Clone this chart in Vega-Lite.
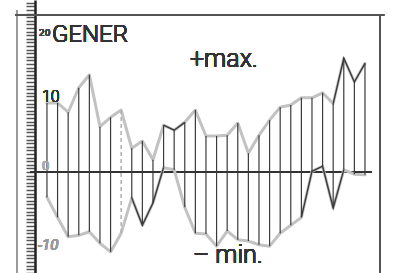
{
  "$schema": "https://vega.github.io/schema/vega-lite/v6.json",
  "width": 397,
  "height": 273,
  "autosize": {"type": "none"},
  "padding": 0,
  "background": "#ffffff",
  "config": {"view": {"stroke": null}},
  "data": {"values": [
    {"day": 1, "max": 9.6, "min": -3.5},
    {"day": 2, "max": 9.6, "min": -6.3},
    {"day": 3, "max": 8.3, "min": -9.0},
    {"day": 4, "max": 11.7, "min": -8.8},
    {"day": 5, "max": 13.5, "min": -8.3},
    {"day": 6, "max": 6.3, "min": -9.9},
    {"day": 7, "max": 7.6, "min": -11.1},
    {"day": 8, "max": 8.6, "min": -8.5},
    {"day": 9, "max": 3.3, "min": -3.6},
    {"day": 10, "max": 4.3, "min": -7.4},
    {"day": 11, "max": 1.7, "min": -4.3},
    {"day": 12, "max": 6.5, "min": 0.6},
    {"day": 13, "max": 5.8, "min": 0.3},
    {"day": 14, "max": 6.9, "min": -4.9},
    {"day": 15, "max": 8.6, "min": -8.5},
    {"day": 16, "max": 5.0, "min": -8.6},
    {"day": 17, "max": 5.0, "min": -10.3},
    {"day": 18, "max": 5.1, "min": -8.2},
    {"day": 19, "max": 6.8, "min": -9.4},
    {"day": 20, "max": 2.6, "min": -9.6},
    {"day": 21, "max": 5.1, "min": -10.1},
    {"day": 22, "max": 7.2, "min": -10.3},
    {"day": 23, "max": 9.0, "min": -8.5},
    {"day": 24, "max": 9.3, "min": -7.4},
    {"day": 25, "max": 10.3, "min": -6.3},
    {"day": 26, "max": 10.3, "min": 0.1},
    {"day": 27, "max": 11.0, "min": 0.8},
    {"day": 28, "max": 9.5, "min": -5.0},
    {"day": 29, "max": 15.8, "min": 0.3},
    {"day": 30, "max": 12.5, "min": -0.3},
    {"day": 31, "max": 15.1, "min": -0.4}
  ]},
  "layer": [
    {
      "mark": {"type": "rule", "color": "#9a9a9a", "strokeWidth": 1},
      "encoding": {
        "x": {"datum": -1.83, "type": "quantitative", "scale": {"domain": [-3.43, 34.02], "nice": false, "zero": false}, "axis": null},
        "y": {"datum": 22.4, "type": "quantitative", "scale": {"domain": [-14.03, 23.89], "nice": false, "zero": false},
              "axis": {"orient": "left", "offset": -35, "labels": false, "title": null, "grid": false, "domainColor": "#222222", "domainWidth": 2.5, "tickColor": "#555555", "tickWidth": 1.5, "tickSize": 9, "tickCount": 76}},
        "y2": {"datum": -14.03}
      }
    },
    {
      "mark": {"type": "rule", "color": "#333333", "strokeWidth": 1.5},
      "encoding": {
        "x": {"datum": -0.6, "type": "quantitative", "scale": {"domain": [-3.43, 34.02], "nice": false, "zero": false}},
        "x2": {"datum": 31.66},
        "y": {"datum": 0, "type": "quantitative", "scale": {"domain": [-14.03, 23.89], "nice": false, "zero": false}}
      }
    },
    {
      "mark": {"type": "rule", "color": "#555555", "strokeWidth": 1.5},
      "encoding": {
        "x": {"datum": -2.0, "type": "quantitative", "scale": {"domain": [-3.43, 34.02], "nice": false, "zero": false}},
        "x2": {"datum": 32.8},
        "y": {"datum": 21.8, "type": "quantitative", "scale": {"domain": [-14.03, 23.89], "nice": false, "zero": false}}
      }
    },
    {
      "mark": {"type": "rule", "color": "#555555", "strokeWidth": 1.5},
      "encoding": {
        "x": {"datum": 32.42, "type": "quantitative", "scale": {"domain": [-3.43, 34.02], "nice": false, "zero": false}},
        "y": {"datum": 21.8, "type": "quantitative", "scale": {"domain": [-14.03, 23.89], "nice": false, "zero": false}},
        "y2": {"datum": -14.03}
      }
    },
    {
      "mark": {"type": "line", "color": "#c2c2c2", "strokeWidth": 3, "strokeCap": "round", "strokeJoin": "round"},
      "encoding": {
        "x": {"field": "day", "type": "quantitative", "scale": {"domain": [-3.43, 34.02], "nice": false, "zero": false}},
        "y": {"field": "max", "type": "quantitative", "scale": {"domain": [-14.03, 23.89], "nice": false, "zero": false}}
      }
    },
    {
      "mark": {"type": "line", "color": "#c2c2c2", "strokeWidth": 3, "strokeCap": "round", "strokeJoin": "round"},
      "encoding": {
        "x": {"field": "day", "type": "quantitative", "scale": {"domain": [-3.43, 34.02], "nice": false, "zero": false}},
        "y": {"field": "min", "type": "quantitative", "scale": {"domain": [-14.03, 23.89], "nice": false, "zero": false}}
      }
    },
    {
      "transform": [{"filter": "datum.day != 8"}],
      "mark": {"type": "rule", "color": "#3a3a3a", "strokeWidth": 1.2},
      "encoding": {
        "x": {"field": "day", "type": "quantitative", "scale": {"domain": [-3.43, 34.02], "nice": false, "zero": false}},
        "y": {"field": "max", "type": "quantitative", "scale": {"domain": [-14.03, 23.89], "nice": false, "zero": false}},
        "y2": {"field": "min"}
      }
    },
    {
      "transform": [{"filter": "datum.day == 8"}],
      "mark": {"type": "rule", "color": "#b0b0b0", "strokeWidth": 1.5, "strokeDash": [4, 3]},
      "encoding": {
        "x": {"field": "day", "type": "quantitative", "scale": {"domain": [-3.43, 34.02], "nice": false, "zero": false}},
        "y": {"field": "max", "type": "quantitative", "scale": {"domain": [-14.03, 23.89], "nice": false, "zero": false}},
        "y2": {"field": "min"}
      }
    },
    {
      "transform": [{"filter": "datum.day >= 28"}],
      "mark": {"type": "line", "color": "#3a3a3a", "strokeWidth": 1.4},
      "encoding": {
        "x": {"field": "day", "type": "quantitative", "scale": {"domain": [-3.43, 34.02], "nice": false, "zero": false}},
        "y": {"field": "max", "type": "quantitative", "scale": {"domain": [-14.03, 23.89], "nice": false, "zero": false}}
      }
    },
    {
      "transform": [{"filter": "datum.day >= 12 && datum.day <= 14"}],
      "mark": {"type": "line", "color": "#3a3a3a", "strokeWidth": 1.4},
      "encoding": {
        "x": {"field": "day", "type": "quantitative", "scale": {"domain": [-3.43, 34.02], "nice": false, "zero": false}},
        "y": {"field": "max", "type": "quantitative", "scale": {"domain": [-14.03, 23.89], "nice": false, "zero": false}}
      }
    },
    {
      "transform": [{"filter": "datum.day >= 9 && datum.day <= 12"}],
      "mark": {"type": "line", "color": "#3a3a3a", "strokeWidth": 1.4},
      "encoding": {
        "x": {"field": "day", "type": "quantitative", "scale": {"domain": [-3.43, 34.02], "nice": false, "zero": false}},
        "y": {"field": "min", "type": "quantitative", "scale": {"domain": [-14.03, 23.89], "nice": false, "zero": false}}
      }
    },
    {
      "transform": [{"filter": "datum.day >= 25 && datum.day <= 29"}],
      "mark": {"type": "line", "color": "#3a3a3a", "strokeWidth": 1.4},
      "encoding": {
        "x": {"field": "day", "type": "quantitative", "scale": {"domain": [-3.43, 34.02], "nice": false, "zero": false}},
        "y": {"field": "min", "type": "quantitative", "scale": {"domain": [-14.03, 23.89], "nice": false, "zero": false}}
      }
    },
    {
      "mark": {"type": "text", "text": "GENER", "font": "Roboto", "fontWeight": 300, "fontSize": 24, "align": "left", "baseline": "alphabetic", "color": "#333333"},
      "encoding": {
        "x": {"datum": 1.47, "type": "quantitative", "scale": {"domain": [-3.43, 34.02], "nice": false, "zero": false}},
        "y": {"datum": 18.06, "type": "quantitative", "scale": {"domain": [-14.03, 23.89], "nice": false, "zero": false}}
      }
    },
    {
      "mark": {"type": "text", "text": "20", "font": "DejaVu Sans", "fontSize": 9, "align": "left", "baseline": "alphabetic", "color": "#444444"},
      "encoding": {
        "x": {"datum": 0.25, "type": "quantitative", "scale": {"domain": [-3.43, 34.02], "nice": false, "zero": false}},
        "y": {"datum": 18.9, "type": "quantitative", "scale": {"domain": [-14.03, 23.89], "nice": false, "zero": false}}
      }
    },
    {
      "mark": {"type": "text", "text": "+max.", "font": "Roboto", "fontWeight": 300, "fontSize": 25, "align": "left", "baseline": "alphabetic", "color": "#333333"},
      "encoding": {
        "x": {"datum": 14.49, "type": "quantitative", "scale": {"domain": [-3.43, 34.02], "nice": false, "zero": false}},
        "y": {"datum": 14.58, "type": "quantitative", "scale": {"domain": [-14.03, 23.89], "nice": false, "zero": false}}
      }
    },
    {
      "mark": {"type": "text", "text": "– min.", "font": "Roboto", "fontWeight": 300, "fontSize": 25, "align": "left", "baseline": "alphabetic", "color": "#333333"},
      "encoding": {
        "x": {"datum": 14.77, "type": "quantitative", "scale": {"domain": [-3.43, 34.02], "nice": false, "zero": false}},
        "y": {"datum": -12.64, "type": "quantitative", "scale": {"domain": [-14.03, 23.89], "nice": false, "zero": false}}
      }
    },
    {
      "mark": {"type": "text", "text": "10", "font": "Roboto", "fontWeight": 300, "fontSize": 16, "align": "left", "baseline": "alphabetic", "color": "#333333"},
      "encoding": {
        "x": {"datum": 0.53, "type": "quantitative", "scale": {"domain": [-3.43, 34.02], "nice": false, "zero": false}},
        "y": {"datum": 9.72, "type": "quantitative", "scale": {"domain": [-14.03, 23.89], "nice": false, "zero": false}}
      }
    },
    {
      "mark": {"type": "text", "text": "0", "font": "Roboto", "fontSize": 13, "align": "left", "baseline": "alphabetic", "color": "#a8a8a8"},
      "encoding": {
        "x": {"datum": 0.53, "type": "quantitative", "scale": {"domain": [-3.43, 34.02], "nice": false, "zero": false}},
        "y": {"datum": 0.28, "type": "quantitative", "scale": {"domain": [-14.03, 23.89], "nice": false, "zero": false}}
      }
    },
    {
      "mark": {"type": "text", "text": "-10", "font": "Roboto", "fontSize": 15, "fontStyle": "italic", "align": "left", "baseline": "alphabetic", "color": "#9a9a9a"},
      "encoding": {
        "x": {"datum": 0.15, "type": "quantitative", "scale": {"domain": [-3.43, 34.02], "nice": false, "zero": false}},
        "y": {"datum": -10.8, "type": "quantitative", "scale": {"domain": [-14.03, 23.89], "nice": false, "zero": false}}
      }
    }
  ]
}
